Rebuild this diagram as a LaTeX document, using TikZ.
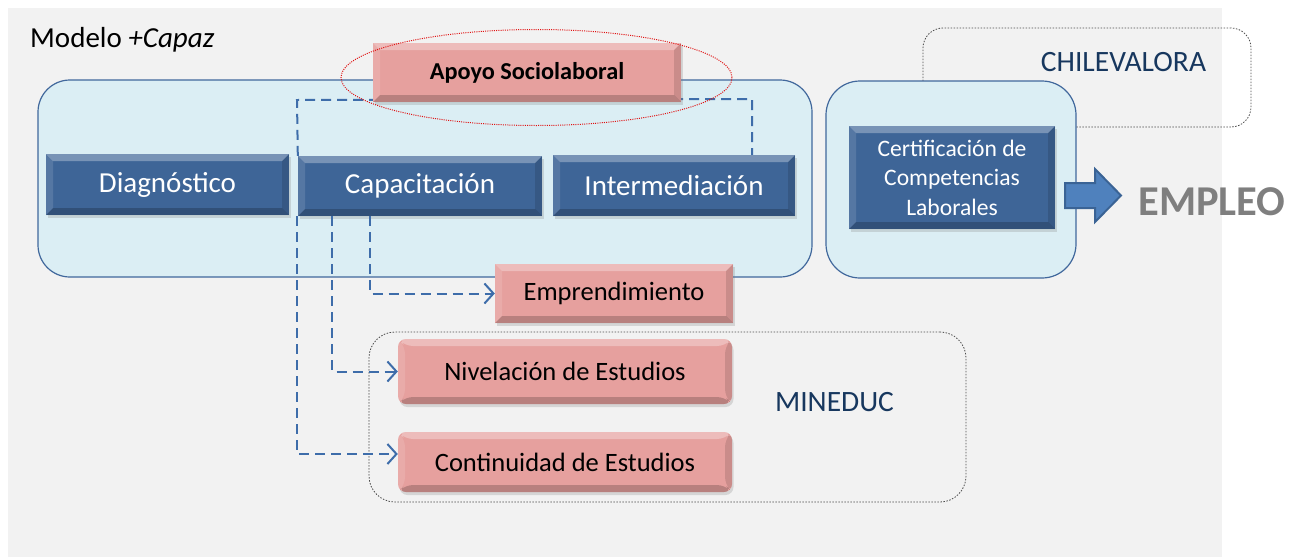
\documentclass[tikz,border=0pt]{standalone}
\usepackage{fontspec}
\setmainfont{Carlito}
\usetikzlibrary{shadows,arrows.meta,calc,shapes.geometric}
\definecolor{bgray}{HTML}{F2F2F2}
\definecolor{contfill}{HTML}{DBEEF4}
\definecolor{contline}{HTML}{41689C}
\definecolor{boxblue}{HTML}{3E6597}
\definecolor{boxpink}{HTML}{E6A09E}
\definecolor{dashblue}{HTML}{3E6DAA}
\definecolor{navytext}{HTML}{17375E}
\definecolor{arrowblue}{HTML}{4F81BD}
\definecolor{arrowline}{HTML}{3A6395}
\definecolor{emplgray}{HTML}{7F7F7F}
\definecolor{ellred}{HTML}{E01010}
\tikzset{
  bevelpic/.style={path picture={
    \fill[white,opacity=0.30] (path picture bounding box.north west) -- (path picture bounding box.north east) -- ([shift={(-7pt,-7pt)}]path picture bounding box.north east) -- ([shift={(7pt,-7pt)}]path picture bounding box.north west) -- cycle;
    \fill[white,opacity=0.12] (path picture bounding box.north west) -- (path picture bounding box.south west) -- ([shift={(7pt,7pt)}]path picture bounding box.south west) -- ([shift={(7pt,-7pt)}]path picture bounding box.north west) -- cycle;
    \fill[black,opacity=0.20] (path picture bounding box.south west) -- (path picture bounding box.south east) -- ([shift={(-7pt,7pt)}]path picture bounding box.south east) -- ([shift={(7pt,7pt)}]path picture bounding box.south west) -- cycle;
    \fill[black,opacity=0.12] (path picture bounding box.north east) -- (path picture bounding box.south east) -- ([shift={(-7pt,7pt)}]path picture bounding box.south east) -- ([shift={(-7pt,-7pt)}]path picture bounding box.north east) -- cycle;
  }},
  bluebox/.style={rectangle, fill=boxblue, bevelpic, inner sep=0pt, text=white,
    drop shadow={opacity=0.25, shadow xshift=1.5pt, shadow yshift=-3pt},
    font=\fontsize{29}{34}\selectfont},
  pinkbox/.style={rectangle, fill=boxpink, bevelpic, inner sep=0pt, text=black,
    drop shadow={opacity=0.25, shadow xshift=1.5pt, shadow yshift=-3pt},
    font=\fontsize{26.5}{31}\selectfont},
  container/.style={rectangle, rounded corners=32pt, fill=contfill, draw=contline, line width=1.2pt, inner sep=0pt},
  dotbox/.style={rectangle, rounded corners=24pt, draw=black!70, line width=0.8pt, dash pattern=on 1.5pt off 1.5pt, inner sep=0pt},
  dashline/.style={draw=dashblue, line width=2pt, dash pattern=on 10pt off 6pt},
  dasharrow/.style={dashline, -{Straight Barb[length=9pt,width=20pt,line width=2pt]}},
  labeltext/.style={text=navytext, font=\fontsize{29.5}{34}\selectfont, inner sep=0pt},
}
\begin{document}
\begin{tikzpicture}[x=1pt,y=-1pt]
\useasboundingbox (0,0) rectangle (1293,557);
\fill[bgray] (8,8) rectangle (1222,557);

% CHILEVALORA dotted box (behind right container)
\node[dotbox, rounded corners=20pt, minimum width=328pt, minimum height=99pt] (chilebox) at (1087,77.5) {};
\node[labeltext] (chile) at (1123.5,62) {CHILEVALORA};

% containers
\node[container, minimum width=774pt, minimum height=197pt] (maincont) at (425,178.5) {};
\node[container, rounded corners=34pt, minimum width=250pt, minimum height=197pt] (rightcont) at (951,179.5) {};

% MINEDUC dotted box
\node[dotbox, rounded corners=26pt, minimum width=597pt, minimum height=170pt] (minbox) at (667.5,417) {};
\node[labeltext] (mineduc) at (834.5,402) {MINEDUC};

% blue boxes
\node[bluebox, minimum width=243pt, minimum height=61pt] (diag) at (167.5,184.5) {Diagnóstico};
\node[bluebox, minimum width=244pt, minimum height=60pt] (cap) at (420,186) {Capacitación};
\node[bluebox, minimum width=242pt, minimum height=61pt] (inter) at (674,185.5) {Intermediación};
\node[bluebox, minimum width=206pt, minimum height=103pt, align=center,
  font=\fontsize{23.6}{29.5}\selectfont] (cert) at (952,177.5) {Certificación de\\Competencias\\Laborales};

% pink boxes
\node[pinkbox, minimum width=238pt, minimum height=59pt] (emp) at (614,293.5) {Emprendimiento};
\node[pinkbox, rounded corners=8pt, minimum width=334pt, minimum height=65pt] (niv) at (565,371.5) {Nivelación de Estudios};
\node[pinkbox, rounded corners=8pt, minimum width=334pt, minimum height=60pt] (cont) at (565,462) {Continuidad de Estudios};

% dashed connectors
\coordinate (dtl) at (297,100);
\coordinate (dtr) at (752,99);
\draw[dashline] (cap.north west) -- (dtl) -- (dtr) -- (dtr |- inter.north);
\draw[dasharrow] ([xshift=-50pt]cap.south) |- (emp.west);
\draw[dasharrow] ([xshift=34pt]cap.south west) |- (niv.west);
\draw[dasharrow] ([xshift=-1pt]cap.south west) |- ([yshift=8pt]cont.west);

% Apoyo Sociolaboral
\node[pinkbox, minimum width=308pt, minimum height=59pt, font=\bfseries\fontsize{24.3}{28}\selectfont] (apoyo) at (527,72.5) {Apoyo Sociolaboral};
\node[ellipse, draw=ellred, line width=1pt, dash pattern=on 1pt off 1.2pt, minimum width=391pt, minimum height=96pt, inner sep=0pt] (ell) at (536.5,77.5) {};

% title
\node[anchor=base west, inner sep=0pt, font=\fontsize{29}{34}\selectfont] (title) at (30,47) {Modelo \textit{+Capaz}};

% block arrow and EMPLEO
\node[text=emplgray, font=\bfseries\fontsize{42.5}{48}\selectfont, inner sep=0pt] (empleo) at (1212,202) {EMPLEO};
\coordinate (ba) at (1065,195.5);
\filldraw[fill=arrowblue, draw=arrowline, line width=2pt, line join=miter]
  ($(ba)+(0,-12.5)$) -- ++(30,0) -- ++(0,-14) -- ($(ba)+(56,0)$) -- ($(ba)+(30,26.5)$) -- ++(0,-14) -- ($(ba)+(0,12.5)$) -- cycle;
\end{tikzpicture}
\end{document}
